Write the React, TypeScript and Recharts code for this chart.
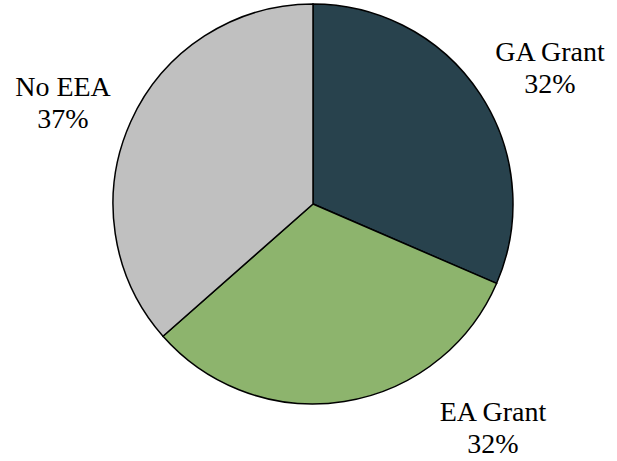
import { Cell, Pie, PieChart } from "recharts";

const categories = ["GA Grant", "EA Grant", "No EEA"];
const shares = [31.5, 32.0, 36.5];
const pctLabels = ["32%", "32%", "37%"];

const COLORS = ["#28424D", "#8DB46D", "#C0C0C0"];
const SERIF = "'Times New Roman', 'Liberation Serif', serif";

// where each label sits relative to the pie centre (x offset, first baseline offset)
const LABEL_OFFSETS: [number, number][] = [
  [237, -143],
  [180, 217],
  [-250, -108],
];

const data = categories.map((name, i) => ({
  name,
  value: shares[i],
  pct: pctLabels[i],
}));

const renderLabel = (props: any) => {
  const { cx, cy, index } = props;
  const [dx, dy] = LABEL_OFFSETS[index];
  return (
    <text
      key={index}
      x={cx + dx}
      y={cy + dy}
      textAnchor="middle"
      fill="#000"
      style={{ fontFamily: SERIF, fontSize: 28 }}
    >
      <tspan x={cx + dx}>{data[index].name}</tspan>
      <tspan x={cx + dx} dy={32}>
        {data[index].pct}
      </tspan>
    </text>
  );
};

const App = () => {
  return (
    <div style={{ position: "absolute", left: 0, top: 0, background: "#fff" }}>
      <PieChart
        width={617}
        height={461}
        margin={{ top: 0, right: 0, bottom: 0, left: 0 }}
      >
        <Pie
          data={data}
          dataKey="value"
          nameKey="name"
          cx={313}
          cy={204}
          outerRadius={200}
          startAngle={90}
          endAngle={-270}
          stroke="#000"
          strokeWidth={1.5}
          label={renderLabel}
          labelLine={false}
          isAnimationActive={false}
        >
          {data.map((_, index) => (
            <Cell key={index} fill={COLORS[index]} />
          ))}
        </Pie>
      </PieChart>
    </div>
  );
};

export default App;
